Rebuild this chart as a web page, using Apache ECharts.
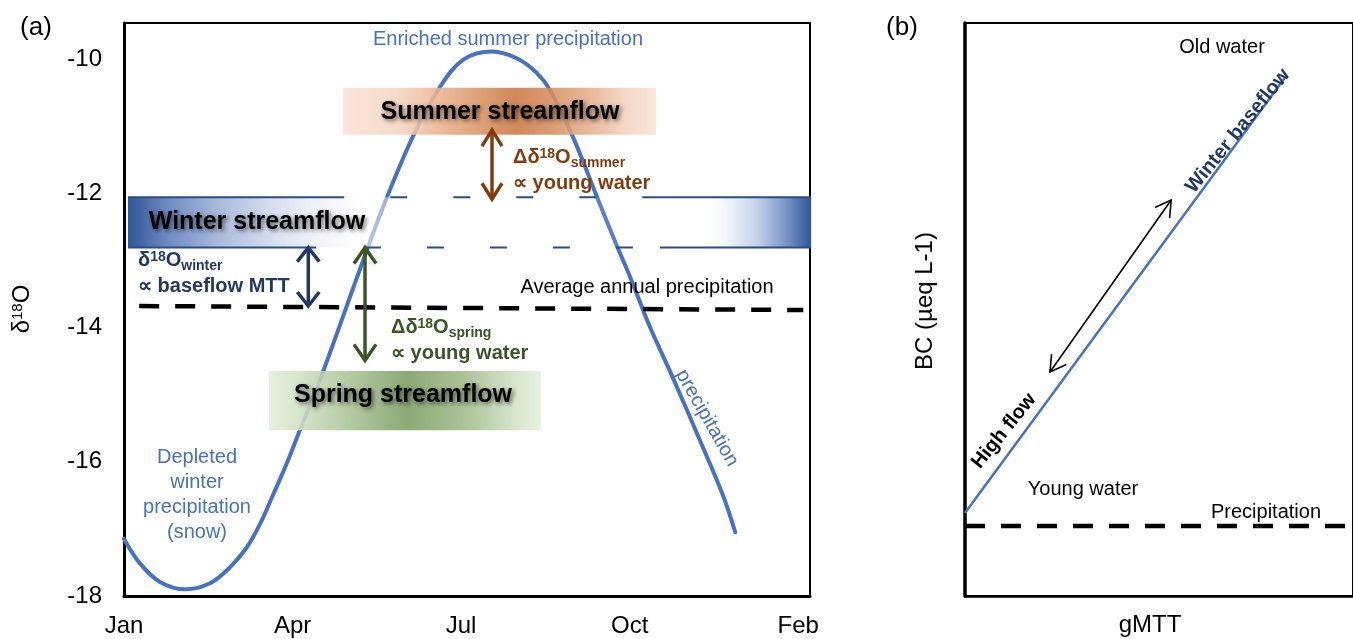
<!DOCTYPE html>
<html>
<head>
<meta charset="utf-8">
<script src="https://cdn.jsdelivr.net/npm/echarts@6/dist/echarts.min.js"></script>
<style>
html, body { margin: 0; padding: 0; background: #fff; }
#chart { width: 1353px; height: 639px; }
</style>
</head>
<body>
<div id="chart"></div>
<script>
// ---- Panel (a): seasonal δ18O of precipitation (x = months after 1 January) ----
const months = [0, 0.28, 0.64, 1.09, 1.53, 1.89, 2.19, 2.42, 2.65, 2.90, 3.13, 3.35, 3.49, 3.85, 4.33, 4.68, 5.14, 5.63, 6.04, 6.55, 6.99, 7.35, 7.58, 7.99, 8.44, 8.77, 9.01, 9.36, 9.77, 10.25, 10.66, 10.88];
const precipD18O = [-17.15, -17.51, -17.79, -17.90, -17.81, -17.57, -17.27, -16.93, -16.50, -16.02, -15.53, -15.08, -14.78, -13.95, -12.83, -12.06, -11.16, -10.41, -10.01, -9.89, -9.99, -10.21, -10.46, -11.16, -12.10, -12.78, -13.25, -13.99, -14.75, -15.68, -16.50, -17.05];

const monthTicks = [0, 3, 6, 9, 12];
const monthLabels = ['Jan', 'Apr', 'Jul', 'Oct', 'Feb'];
const d18OTicks = [-18, -16, -14, -12, -10];

// average annual precipitation: [month, δ18O] at both ends
const avgPrecip = [[0.27, -13.68], [12.09, -13.74]];

// streamflow ranges: [month from, month to, δ18O top, δ18O bottom]
const winterBand = [0.07, 12.23, -12.06, -12.81];
const summerBand = [3.90, 9.47, -10.43, -11.13];
const springBand = [2.58, 7.42, -14.65, -15.53];

// winter range outline: [month from, month to, δ18O]
const winterEdgeSolid = [[0.07, 3.92, -12.06], [9.24, 12.23, -12.06], [0.07, 3.42, -12.81], [9.54, 12.23, -12.81]];
const winterEdgeDashed = [[4.74, 9.24, -12.06], [4.27, 9.54, -12.81]];

// double arrows: [month, δ18O, month, δ18O]
const winterArrow = [[3.28, -12.81, 3.28, -13.68]];
const springArrow = [[4.29, -12.81, 4.29, -14.49]];
const summerArrow = [[6.55, -11.06, 6.55, -12.09]];

// ---- Panel (b): base cations vs. gMTT (arbitrary units) ----
const gmttLine = [[0, 1.45], [8.65, 9.04]];
const precipBC = [[0, 1.22], [10.5, 1.22]];
const flowArrow = [[2.3, 3.91, 5.58, 6.91]];

const FONT = "'Liberation Sans', Arial, Helvetica, sans-serif";
const BLUE = '#4472C4';
const NAVY = '#203864';
const GREEN = '#385723';
const BROWN = '#843C0C';

const chart = echarts.init(document.getElementById('chart'), null, { renderer: 'canvas' });

function bandSeries(band, stops, alpha, z) {
  return {
    type: 'custom', xAxisIndex: 0, yAxisIndex: 0, z: z, silent: true, clip: false,
    encode: { x: [0, 1], y: [2, 3] },
    data: [band],
    renderItem: function (params, api) {
      const a = api.coord([api.value(0), api.value(2)]);
      const b = api.coord([api.value(1), api.value(3)]);
      return {
        type: 'rect',
        shape: { x: a[0], y: a[1], width: b[0] - a[0], height: b[1] - a[1] },
        style: { fill: new echarts.graphic.LinearGradient(0, 0, 1, 0, stops), opacity: alpha }
      };
    }
  };
}

function edgeSeries(segments, dash, z) {
  return {
    type: 'custom', xAxisIndex: 0, yAxisIndex: 0, z: z, silent: true, clip: false,
    encode: { x: [0, 1], y: 2 },
    data: segments,
    renderItem: function (params, api) {
      const a = api.coord([api.value(0), api.value(2)]);
      const b = api.coord([api.value(1), api.value(2)]);
      return {
        type: 'line',
        shape: { x1: a[0], y1: a[1], x2: b[0], y2: b[1] },
        style: { stroke: '#2B4C8C', lineWidth: 2, lineDash: dash, fill: null }
      };
    }
  };
}

function arrowSeries(xi, segs, color, width, headLen, headHalf, z) {
  return {
    type: 'custom', xAxisIndex: xi, yAxisIndex: xi, z: z, silent: true, clip: false,
    encode: { x: [0, 2], y: [1, 3] },
    data: segs,
    renderItem: function (params, api) {
      const a = api.coord([api.value(0), api.value(1)]);
      const b = api.coord([api.value(2), api.value(3)]);
      function head(tip, from) {
        const dx = from[0] - tip[0], dy = from[1] - tip[1];
        const L = Math.hypot(dx, dy), ux = dx / L, uy = dy / L;
        return [
          [tip[0] + ux * headLen - uy * headHalf, tip[1] + uy * headLen + ux * headHalf],
          [tip[0], tip[1]],
          [tip[0] + ux * headLen + uy * headHalf, tip[1] + uy * headLen - ux * headHalf]
        ];
      }
      function st() {
        return { stroke: color, lineWidth: width, fill: null, lineJoin: 'miter', lineCap: 'butt' };
      }
      return {
        type: 'group',
        children: [
          { type: 'line', shape: { x1: a[0], y1: a[1], x2: b[0], y2: b[1] }, style: st() },
          { type: 'polyline', shape: { points: head(a, b) }, style: st() },
          { type: 'polyline', shape: { points: head(b, a) }, style: st() }
        ]
      };
    }
  };
}

function text(x, y, str, style, extra) {
  return Object.assign({
    type: 'text', x: x, y: y, z: 100, silent: true,
    style: Object.assign({
      text: str, fill: '#000', fontFamily: FONT, fontSize: 20,
      align: 'center', verticalAlign: 'middle'
    }, style || {})
  }, extra || {});
}

function streamTitle(x, y, str) {
  return text(x, y, str, {
    fontSize: 25, fontWeight: 'bold', fill: '#000',
    textShadowColor: 'rgba(0,0,0,0.55)', textShadowBlur: 4,
    textShadowOffsetX: 2, textShadowOffsetY: 2
  });
}

function relation(x, y, color, subscript, line2, delta) {
  const rich = {
    m: { fontFamily: FONT, fontSize: 20, fontWeight: 'bold', fill: color, lineHeight: 26 },
    s: { fontFamily: FONT, fontSize: 14, fontWeight: 'bold', fill: color, verticalAlign: 'top', padding: [3, 0, 0, 0] },
    b: { fontFamily: FONT, fontSize: 14, fontWeight: 'bold', fill: color, verticalAlign: 'bottom' }
  };
  return text(x, y, '{m|' + (delta ? 'Δδ' : 'δ') + '}{s|18}{m|O}{b|' + subscript + '}\n{m|' + line2 + '}', {
    align: 'left', verticalAlign: 'top', rich: rich, fill: color
  });
}

const deg = Math.PI / 180;

const option = {
  animation: false,
  backgroundColor: '#fff',
  textStyle: { fontFamily: FONT },
  grid: [
    { left: 124, top: 23, width: 686, height: 573, show: true, borderColor: '#000', borderWidth: 2, backgroundColor: 'transparent' },
    { left: 965, top: 23, width: 420, height: 573, show: true, borderColor: '#000', borderWidth: 2, backgroundColor: 'transparent' }
  ],
  xAxis: [
    {
      type: 'value', gridIndex: 0, min: 0, max: 12.21, interval: 3,
      axisLine: { show: true, onZero: false, lineStyle: { color: '#000', width: 3 } },
      axisTick: { show: false }, splitLine: { show: false },
      axisLabel: {
        fontSize: 24, color: '#000', margin: 18, fontFamily: FONT,
        formatter: function (v) { const i = monthTicks.indexOf(v); return i < 0 ? '' : monthLabels[i]; }
      }
    },
    {
      type: 'value', gridIndex: 1, min: 0, max: 10.5,
      axisLine: { show: true, onZero: false, lineStyle: { color: '#000', width: 2.5 } },
      axisTick: { show: false }, splitLine: { show: false }, axisLabel: { show: false }
    }
  ],
  yAxis: [
    {
      type: 'value', gridIndex: 0, min: -18, max: -9.464, interval: 2,
      axisLine: { show: true, onZero: false, lineStyle: { color: '#000', width: 3 } },
      axisTick: { show: false }, splitLine: { show: false },
      axisLabel: {
        fontSize: 24, color: '#000', margin: 22, fontFamily: FONT,
        formatter: function (v) { return d18OTicks.indexOf(v) < 0 ? '' : String(v); }
      }
    },
    {
      type: 'value', gridIndex: 1, min: 0, max: 10,
      axisLine: { show: true, onZero: false, lineStyle: { color: '#000', width: 3.5 } },
      axisTick: { show: false }, splitLine: { show: false }, axisLabel: { show: false }
    }
  ],
  series: [
    {
      name: 'precipitation', type: 'line', xAxisIndex: 0, yAxisIndex: 0, z: 2,
      data: months.map(function (m, i) { return [m, precipD18O[i]]; }),
      smooth: 0.35, symbol: 'none', silent: true,
      lineStyle: { color: BLUE, width: 4, cap: 'round', join: 'round' }
    },
    bandSeries(winterBand, [
      { offset: 0, color: '#2E5597' }, { offset: 0.06, color: '#6F8CC2' },
      { offset: 0.135, color: '#AABBDD' }, { offset: 0.21, color: '#D6DEEF' },
      { offset: 0.28, color: 'rgba(240,243,249,0.9)' }, { offset: 0.35, color: 'rgba(255,255,255,0.6)' },
      { offset: 0.45, color: 'rgba(255,255,255,0.12)' }, { offset: 0.8, color: 'rgba(255,255,255,0.1)' },
      { offset: 0.85, color: 'rgba(255,255,255,0.6)' }, { offset: 0.88, color: '#EEF2F9' },
      { offset: 0.92, color: '#C6D2EA' }, { offset: 0.96, color: '#8199CA' },
      { offset: 1, color: '#2E5597' }
    ], 1, 3),
    edgeSeries(winterEdgeSolid, null, 3.5),
    edgeSeries(winterEdgeDashed, [17, 46], 3.5),
    bandSeries(summerBand, [
      { offset: 0, color: '#F9E1D3' }, { offset: 0.17, color: '#F6D7C4' },
      { offset: 0.3, color: '#EBB694' }, { offset: 0.45, color: '#D7915F' },
      { offset: 0.55, color: '#CB7843' }, { offset: 0.65, color: '#D48B5A' },
      { offset: 0.78, color: '#E4AD8A' }, { offset: 0.9, color: '#F3D2BE' },
      { offset: 1, color: '#F9E3D6' }
    ], 0.88, 3),
    bandSeries(springBand, [
      { offset: 0, color: '#E3EFDA' }, { offset: 0.1, color: '#D3E3C6' },
      { offset: 0.29, color: '#ABC497' }, { offset: 0.51, color: '#7D9E62' },
      { offset: 0.72, color: '#A0BB89' }, { offset: 0.91, color: '#D3E3C7' },
      { offset: 1, color: '#E4F0DB' }
    ], 0.88, 3),
    {
      name: 'average annual precipitation', type: 'line', xAxisIndex: 0, yAxisIndex: 0, z: 4,
      data: avgPrecip, symbol: 'none', silent: true,
      lineStyle: { color: '#000', width: 4.5, type: [20, 16], cap: 'butt' }
    },
    arrowSeries(0, winterArrow, NAVY, 3.5, 14, 11, 5),
    arrowSeries(0, springArrow, GREEN, 3.5, 16, 11, 5),
    arrowSeries(0, summerArrow, BROWN, 3.5, 16, 10, 5),
    {
      name: 'gMTT relation', type: 'line', xAxisIndex: 1, yAxisIndex: 1, z: 3,
      data: gmttLine, symbol: 'none', silent: true,
      lineStyle: { color: BLUE, width: 2.5 }
    },
    {
      name: 'precipitation BC', type: 'line', xAxisIndex: 1, yAxisIndex: 1, z: 4,
      data: precipBC, symbol: 'none', silent: true,
      lineStyle: { color: '#000', width: 4.5, type: [20, 16], cap: 'butt' }
    },
    arrowSeries(1, flowArrow, '#000', 1.6, 15.5, 9, 5)
  ],
  graphic: [
    text(36, 28, '(a)', { fontSize: 26 }),
    text(902, 28, '(b)', { fontSize: 26 }),
    text(22, 309, '{m|δ}{s|18}{m|O}', {
      rich: {
        m: { fontFamily: FONT, fontSize: 24, fill: '#000', lineHeight: 30 },
        s: { fontFamily: FONT, fontSize: 15, fill: '#000', verticalAlign: 'top', padding: [3, 0, 0, 0] }
      }
    }, { rotation: 90 * deg }),
    text(925, 301, 'BC (µeq L-1)', { fontSize: 24 }, { rotation: 90 * deg }),
    text(1150, 625, 'gMTT', { fontSize: 24 }),

    text(508, 39, 'Enriched summer precipitation', { fill: BLUE }),
    text(197, 494.5, 'Depleted\nwinter\nprecipitation\n(snow)', { fill: BLUE, lineHeight: 25 }),
    text(707, 418, 'precipitation', { fill: BLUE }, { rotation: -60.4 * deg }),
    text(647, 287, 'Average annual precipitation', {}),

    streamTitle(257, 222, 'Winter streamflow'),
    streamTitle(500, 112, 'Summer streamflow'),
    streamTitle(403, 395.5, 'Spring streamflow'),

    relation(138, 247, NAVY, 'winter', '∝ baseflow MTT', false),
    relation(391, 314, GREEN, 'spring', '∝ young water', true),
    relation(513, 144.5, BROWN, 'summer', '∝ young water', true),

    text(1222, 47, 'Old water', {}),
    text(1083, 489, 'Young water', {}),
    text(1266, 512, 'Precipitation', {}),
    text(1238, 131, 'Winter baseflow', { fontWeight: 'bold', fill: NAVY }, { rotation: 51 * deg }),
    text(1004, 431, 'High flow', { fontWeight: 'bold', fill: '#000' }, { rotation: 51 * deg })
  ]
};

chart.setOption(option);
</script>
</body>
</html>
